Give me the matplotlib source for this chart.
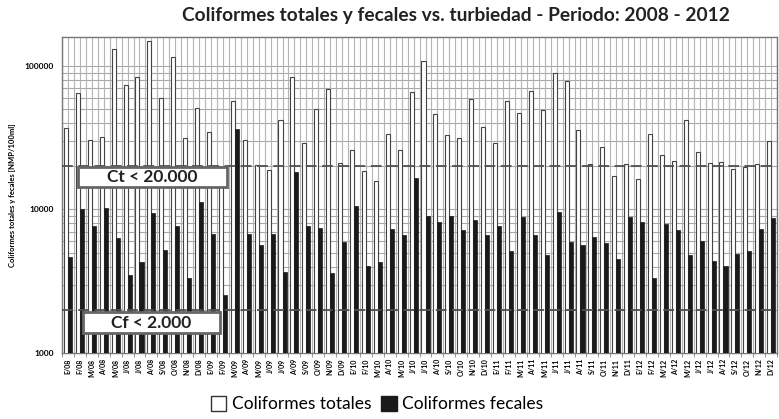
import matplotlib.pyplot as plt
import numpy as np
from matplotlib.patches import Patch, Rectangle

months = ["E", "F", "M", "A", "M", "J", "J", "A", "S", "O", "N", "D"]
years = ["08", "09", "10", "11", "12"]
labels = [f"{m}/{y}" for y in years for m in months]

# Coliformes totales [NMP/100ml]
totales = [
    37200, 64900, 30400, 31900, 131000, 73300, 83800, 150000, 59900, 116000, 31400, 51300,
    34700, 17000, 57100, 30500, 20500, 18800, 42100, 84300, 29100, 49900, 69500, 21200,
    26000, 18400, 15700, 33800, 26000, 65900, 108000, 46300, 33100, 31700, 58600, 37600,
    29100, 57400, 46800, 66600, 49400, 89900, 78200, 36000, 20900, 27100, 17100, 20800,
    16400, 33600, 23900, 21900, 42100, 25200, 21200, 21400, 19100, 19900, 20900, 30100,
]

# Coliformes fecales [NMP/100ml]
fecales = [
    4630, 10000, 7700, 10200, 6300, 3510, 4320, 9380, 5210, 7700, 3330, 11200,
    6730, 2520, 36200, 6730, 5620, 6730, 3660, 18200, 7700, 7410, 3590, 5960,
    10600, 4070, 4280, 7330, 6670, 16700, 9030, 8160, 9030, 7180, 8430, 6670,
    7700, 5150, 8850, 6670, 4790, 9600, 5890, 5680, 6480, 5800, 4510, 8850,
    8200, 3330, 7870, 7150, 4830, 6080, 4350, 4010, 4930, 5150, 7290, 8750,
]

limit_ct = 20000
limit_cf = 2000

plt.rcParams["font.family"] = ["Lato", "DejaVu Sans"]

fig = plt.figure(figsize=(7.79, 4.19), dpi=100)
ax = fig.add_axes([0.0796, 0.1575, 0.918, 0.754])

x = np.arange(len(labels))
w = 0.34
ax.set_yscale("log")
ax.bar(x - w / 2, totales, width=w, color="white", edgecolor="#444444", linewidth=0.8, zorder=3)
ax.bar(x + w / 2, fecales, width=w, color="#1a1a1a", edgecolor="#1a1a1a", linewidth=0.5, zorder=3)

ax.set_ylim(1000, 159000)
ax.set_xlim(-0.5, len(labels) - 0.5)

# grid
for gx in np.arange(-0.5, len(labels), 0.5):
    ax.axvline(gx, color="#b4b4b4", linewidth=0.8, zorder=1)
ax.yaxis.grid(True, which="both", color="#a8a8a8", linewidth=0.8, zorder=1)
ax.set_axisbelow(True)

ax.axhline(limit_ct, color="#505050", linestyle=(0, (6, 3)), linewidth=1.3, zorder=4)
ax.axhline(limit_cf, color="#505050", linestyle=(0, (6, 3)), linewidth=1.3, zorder=4)

# text boxes
for (x0, y0, x1, y1, txt) in [
    (0.0224, 0.525, 0.2308, 0.589, "Ct < 20.000"),
    (0.0294, 0.063, 0.221, 0.130, "Cf < 2.000"),
]:
    ax.add_patch(Rectangle((x0, y0), x1 - x0, y1 - y0, transform=ax.transAxes,
                           facecolor="white", edgecolor="#666666", linewidth=2, zorder=6))
    ax.text((x0 + x1) / 2, (y0 + y1) / 2, txt, transform=ax.transAxes, ha="center",
            va="center", fontsize=12.5, fontweight="bold", color="#222222", zorder=7)

ax.set_yticks([1000, 10000, 100000])
ax.set_yticklabels(["1000", "10000", "100000"], fontsize=6, fontweight="bold")
ax.yaxis.set_minor_formatter(plt.NullFormatter())
ax.tick_params(axis="y", which="both", length=0, pad=6)
ax.set_ylabel("Coliformes totales y fecales [NMP/100ml]", fontsize=5.5, fontweight="bold", labelpad=6)

ax.set_xticks(x)
ax.set_xticklabels(labels, rotation=90, fontsize=5, fontweight="bold")
ax.set_xticks(np.arange(-0.5, len(labels), 1), minor=True)
ax.tick_params(axis="x", which="major", length=0, pad=4)
ax.tick_params(axis="x", which="minor", length=3, color="#888888")

for s in ax.spines.values():
    s.set_color("#777777")
    s.set_linewidth(1)

fig.text(0.585, 0.963, "Coliformes totales y fecales vs. turbiedad - Periodo: 2008 - 2012",
         ha="center", va="center", fontsize=13.8, fontweight="bold", color="#222222")

handles = [Patch(facecolor="white", edgecolor="#333333", label="Coliformes totales"),
           Patch(facecolor="#1a1a1a", edgecolor="#1a1a1a", label="Coliformes fecales")]
fig.legend(handles=handles, loc="center", bbox_to_anchor=(0.484, 0.035), ncol=2,
           frameon=False, fontsize=12.5, handlelength=0.9, handleheight=0.9,
           handletextpad=0.3, columnspacing=0.6)

fig.savefig("out.png", dpi=100)
